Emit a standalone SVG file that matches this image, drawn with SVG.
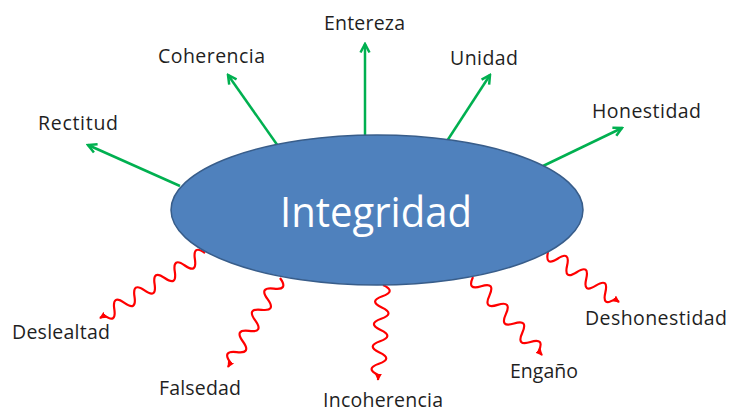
<svg xmlns="http://www.w3.org/2000/svg" width="730" height="412" viewBox="0 0 730 412">
<style>
.lbl{font-family:"Open Sans","Liberation Sans",sans-serif;font-size:19.5px;fill:#1f1f1f}
.good{fill:none;stroke:#00B050;stroke-width:2.5}
.bad{fill:none;stroke:#FF0000;stroke-width:2.2;stroke-linejoin:round}
</style>
<defs>
<marker id="ga" viewBox="0 0 12 12" refX="10" refY="6" markerWidth="12" markerHeight="12" markerUnits="userSpaceOnUse" orient="auto">
<path d="M1.5,1.5 L10,6 L1.5,10.5" fill="none" stroke="#00B050" stroke-width="2.5"/>
</marker>
<marker id="ra" viewBox="0 0 8 8" refX="7" refY="4" markerWidth="7" markerHeight="7" markerUnits="userSpaceOnUse" orient="auto">
<path d="M0,0 L8,4 L0,8 z" fill="#FF0000"/>
</marker>
</defs>
<rect width="730" height="412" fill="#fff"/>
<g id="connectors">
<line class="good" x1="180" y1="186" x2="88" y2="145" marker-end="url(#ga)"/>
<line class="good" x1="278" y1="146" x2="228" y2="75" marker-end="url(#ga)"/>
<line class="good" x1="365" y1="137" x2="365" y2="44" marker-end="url(#ga)"/>
<line class="good" x1="447" y1="141" x2="490" y2="75" marker-end="url(#ga)"/>
<line class="good" x1="543" y1="166" x2="622" y2="128" marker-end="url(#ga)"/>
<path class="bad" marker-end="url(#ra)" d="M205,253 Q192.6,244.2 194.9,259.2 T184.85,265.5 T174.8,271.7 T164.7,278 T154.6,284.2 T144.55,290.4 T134.5,296.7 T124.4,302.9 T114.3,309.2 T104.25,315.4 L100,318"/>
<path class="bad" marker-end="url(#ra)" d="M280,278 Q289,290.4 273.8,288.6 T267.6,299.2 T261.4,309.8 T255.2,320.4 T249.05,330.95 T242.9,341.5 T236.7,352.1 T230.5,362.7 L228,367"/>
<path class="bad" marker-end="url(#ra)" d="M383,285 Q396.7,291.3 382.4,296.25 T381.8,307.5 T381.2,318.75 T380.65,330 T380.05,341.25 T379.5,352.5 T378.9,363.75 T378.3,375 L378,380"/>
<path class="bad" marker-end="url(#ra)" d="M473,277 Q466.6,290.9 481.2,286.3 T489.4,295.6 T497.6,304.9 T505.85,314.15 T514.05,323.45 T522.3,332.7 T530.5,342 T538.7,351.3 L542,355"/>
<path class="bad" marker-end="url(#ra)" d="M548,252 Q544.7,266.9 557.6,258.7 T567.1,265.5 T576.7,272.2 T586.2,278.9 T595.8,285.65 T605.35,292.4 T614.9,299.1 L619,302"/>
</g>
<g id="integridad">
<ellipse cx="377" cy="210" rx="206" ry="75" fill="#4F81BD" stroke="#385D8A" stroke-width="1.5"/>
<text x="280" y="227" font-family="Open Sans, Liberation Sans, sans-serif" font-size="42" fill="#fff" textLength="192" lengthAdjust="spacingAndGlyphs">Integridad</text>
</g>
<g id="rectitud"><text class="lbl" x="38" y="130" textLength="80">Rectitud</text></g>
<g id="coherencia"><text class="lbl" x="158" y="63" textLength="107">Coherencia</text></g>
<g id="entereza"><text class="lbl" x="324" y="30" textLength="81">Entereza</text></g>
<g id="unidad"><text class="lbl" x="450" y="65" textLength="68">Unidad</text></g>
<g id="honestidad"><text class="lbl" x="592" y="118" textLength="109">Honestidad</text></g>
<g id="deslealtad"><text class="lbl" x="12" y="339" textLength="98">Deslealtad</text></g>
<g id="falsedad"><text class="lbl" x="159" y="395" textLength="82">Falsedad</text></g>
<g id="incoherencia"><text class="lbl" x="323" y="407" textLength="120">Incoherencia</text></g>
<g id="engano"><text class="lbl" x="510" y="378" textLength="68">Engaño</text></g>
<g id="deshonestidad"><text class="lbl" x="585" y="325" textLength="142">Deshonestidad</text></g>
</svg>
